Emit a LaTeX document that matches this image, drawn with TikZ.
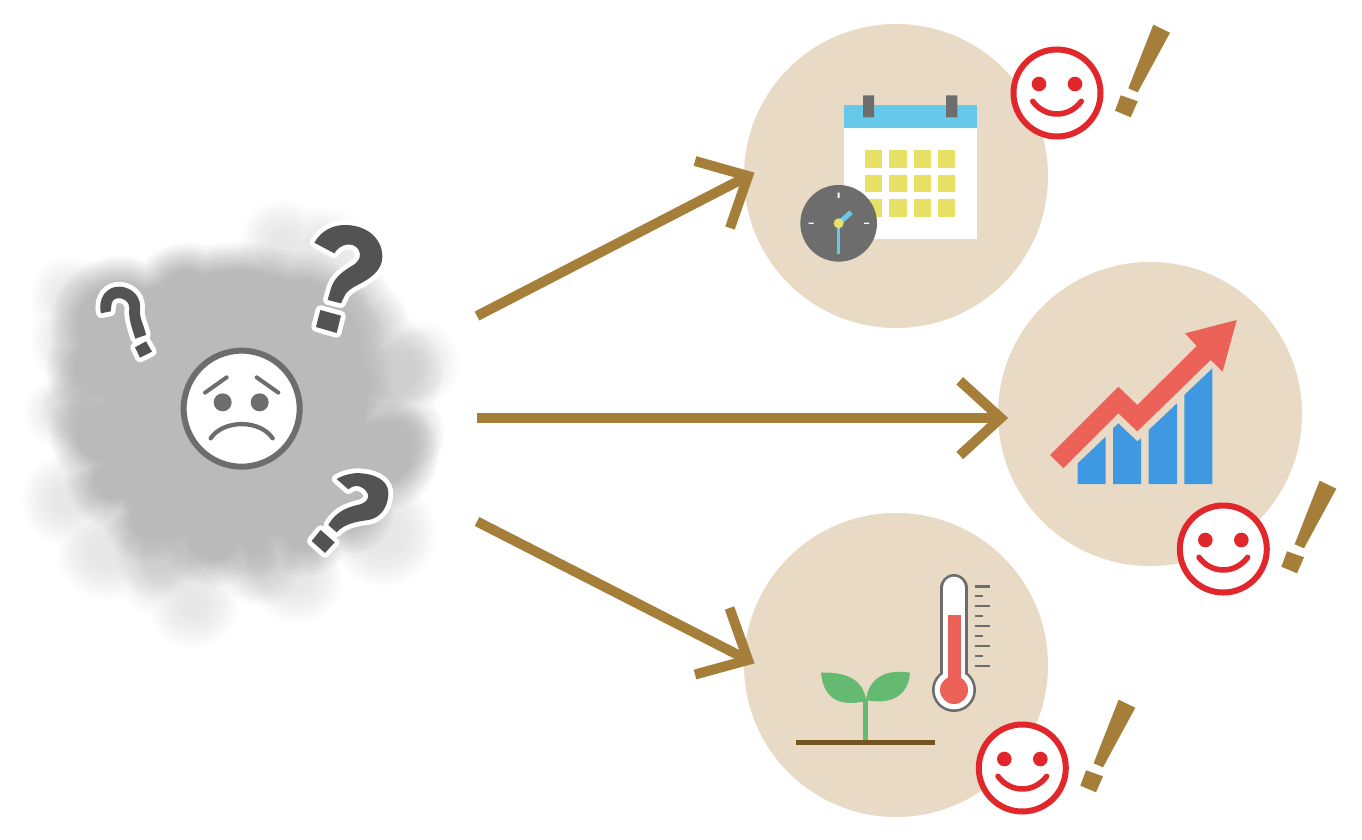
\documentclass[tikz,border=0pt]{standalone}
\definecolor{disc}{HTML}{E9DAC5}
\definecolor{brownarrow}{HTML}{A57F3A}
\definecolor{smilered}{HTML}{E1272B}
\definecolor{steel}{HTML}{6D6D6D}
\definecolor{qdark}{HTML}{535353}
\definecolor{sky}{HTML}{67C9EA}
\definecolor{butter}{HTML}{E7E266}
\definecolor{coral}{HTML}{EC6259}
\definecolor{barblue}{HTML}{3F99E2}
\definecolor{leaf}{HTML}{63BA70}
\definecolor{soil}{HTML}{75551E}
\newcommand{\cloudlayer}[3]{%
  \foreach \k in {1,...,15}{%
    \pgfmathsetmacro{\al}{1/(16-\k)}%
    \pgfmathsetmacro{\dd}{#3*(8-\k)/7}%
    \begin{scope}[transparency group,opacity=\al]
      \foreach \cx/\cy/\cr in {#2}{\fill[#1] (\cx,\cy) circle[radius=\cr+\dd];}
    \end{scope}
  }%
}
\tikzset{
  discnode/.style={circle,fill=disc,minimum size=304pt,inner sep=0pt},
  flow/.style={draw=brownarrow,line width=10pt},
  qmark/.style={fill=qdark,preaction={draw=white,line width=9.5pt,line join=round}},
  ticklong/.style={draw=steel,line width=2.7pt},
  pics/happy/.style={code={
    \draw[smilered,fill=white,line width=6pt] (0,0) circle[radius=43.5];
    \fill[smilered] (-18,-9) circle[radius=7.3] (18,-9) circle[radius=7.3];
    \draw[smilered,line width=5.5pt,line cap=round] (-24.3,8.3) .. controls (-12,25.2) and (12,25.2) .. (24.3,8.3);
    \fill[brownarrow] (96.3,-68.3) -- (113,-60.3) -- (80.7,-0.7) -- (71.3,-4.7) -- cycle;
    \fill[brownarrow] (63.7,2.3) -- (80.7,8.3) -- (73.7,24.3) -- (58,17.7) -- cycle;
  }}
}
\begin{document}
\begin{tikzpicture}[x=1pt,y=-1pt]
\path[fill=white,use as bounding box] (0,0) rectangle (1362,840);

% cloud
\begin{scope}[shift={(20,200)},scale=1/3]
  \cloudlayer{black!9}{790/130/80,900/180/110,520/1210/85,430/1100/100,110/640/50,140/900/85,260/1050/100,830/1130/90,1090/1000/110,1190/490/80,150/290/70,180/420/100}{50}
  \cloudlayer{black!19}{1110/520/115,1000/400/130,1150/700/80,1000/310/75,190/620/80,420/1060/90,720/1090/80}{45}
  \cloudlayer{black!27}{650/600/430,500/500/300,500/800/250,800/800/250,800/450/250,300/380/170,240/500/120,500/300/130,700/290/110,850/330/130,260/700/130,280/840/100,390/950/100,580/1000/120,700/1000/90,850/990/100,980/920/105,1080/760/135}{42}
\end{scope}

% discs
\node[discnode] (cal) at (896,176) {};
\node[discnode] (chart) at (1150,414) {};
\node[discnode] (plant) at (896,665) {};

% connectors
\coordinate (t1) at (477,316);
\coordinate (v1) at (748,176);
\coordinate (a1) at (695,161);
\coordinate (b1) at (730,228);
\coordinate (t2) at (477,418);
\coordinate (v2) at (1000.7,418);
\coordinate (a2) at (959.7,380.8);
\coordinate (b2) at (959.7,455.5);
\coordinate (t3) at (477,521.5);
\coordinate (v3) at (748,660);
\coordinate (a3) at (729.5,608);
\coordinate (b3) at (695,674.5);
\draw[flow] (t1) -- (v1);
\draw[flow] (a1) -- (v1) -- (b1);
\draw[flow] (t2) -- (v2);
\draw[flow] (a2) -- (v2) -- (b2);
\draw[flow] (t3) -- (v3);
\draw[flow] (a3) -- (v3) -- (b3);

% calendar
\begin{scope}[shift={(780,20)},scale=1/3]
  \fill[white] (191,325) rectangle (590,656);
  \fill[sky] (191,255) rectangle (590,325);
  \fill[steel] (249,226) rectangle (282,292) (498,226) rectangle (532,292);
  \foreach \xa/\xb in {255/307,327/380,401/453,474/526}
    \foreach \ya/\yb in {390/443,464/517,537/591}
      \fill[butter] (\xa,\ya) rectangle (\xb,\yb);
  \fill[steel] (176,610) circle[radius=115];
  \fill[white] (173,518) rectangle (179,534) (86,608) rectangle (101,612) (252,608) rectangle (267,612);
  \fill[sky] (171,610) rectangle (181,702);
  \draw[sky,line width=5pt] (176,610) -- (213,577);
  \fill[butter] (176,610) circle[radius=15];
\end{scope}

% chart
\begin{scope}[shift={(1030,300)},scale=1/3]
  \fill[barblue] (143,490) -- (227,410) -- (227,552) -- (143,552) -- cycle;
  \fill[barblue] (249,385) -- (265,370) -- (322,424) -- (333,415) -- (333,552) -- (249,552) -- cycle;
  \fill[barblue] (356,390) -- (441,310) -- (441,552) -- (356,552) -- cycle;
  \fill[barblue] (463,285) -- (547,205) -- (547,552) -- (463,552) -- cycle;
  \fill[coral] (60,465) -- (100,505) -- (265,340) -- (322,394) -- (542,180) -- (578,215) -- (620,60) -- (465,100) -- (500,138) -- (322,315) -- (265,260) -- cycle;
\end{scope}

% seedling and thermometer
\begin{scope}[shift={(780,560)},scale=1/3]
  \fill[leaf] (249,420) rectangle (265,540);
  \fill[leaf] (123,338) .. controls (200,335) and (250,360) .. (258,420) -- (249,425) .. controls (170,440) and (130,410) .. (123,338) -- cycle;
  \fill[leaf] (390,338) .. controls (310,325) and (265,360) .. (258,420) .. controls (330,435) and (385,410) .. (390,338) -- cycle;
  \fill[soil] (48,539) rectangle (465,555);
  \draw[steel,line width=28pt,line cap=round] (522,84) -- (522,390);
  \fill[steel] (522,390) circle[radius=66];
  \draw[white,line width=22.7pt,line cap=round] (522,84) -- (522,390);
  \fill[white] (522,390) circle[radius=58];
  \fill[coral] (503,165) rectangle (542,370);
  \fill[coral] (522,390) circle[radius=42];
  \foreach \yy in {79,138,198,258,318} \draw[ticklong] (584,\yy) -- (629,\yy);
  \foreach \yy in {108,168,228,288} \draw[ticklong] (584,\yy) -- (608,\yy);
\end{scope}

% smileys
\pic at (1057,93) {happy};
\pic at (1223.3,549) {happy};
\pic at (1022.3,768) {happy};

% sad face
\begin{scope}[shift={(20,200)},scale=1/3]
  \draw[steel,fill=white,line width=6pt] (665,626) circle[radius=174];
  \fill[steel] (608,607) circle[radius=27] (719,607) circle[radius=27];
  \draw[steel,line width=4pt,line cap=round] (555,578) -- (620,532);
  \draw[steel,line width=4pt,line cap=round] (710,532) -- (775,578);
  \draw[steel,line width=4.3pt,line cap=round] (572,715) .. controls (610,658) and (720,658) .. (758,715);
\end{scope}

% question marks
\begin{scope}[shift={(295,210)},scale=1/3]
  \path[qmark] (58,98) .. controls (80,60) and (115,45) .. (150,45) .. controls (215,45) and (262,85) .. (262,140) .. controls (262,180) and (228,205) .. (188,225) .. controls (168,235) and (155,245) .. (150,255) -- (138,280) -- (98,270) -- (108,235) .. controls (118,200) and (150,180) .. (175,165) .. controls (195,152) and (200,135) .. (190,118) .. controls (175,95) and (135,100) .. (118,130) -- cycle;
  \path[qmark] (76,300) -- (138,317) -- (125,369) -- (63,351) -- cycle;
\end{scope}
\begin{scope}[shift={(90,270)},scale=1/3]
  \path[qmark] (33,130) .. controls (22,85) and (50,48) .. (90,50) .. controls (135,53) and (155,90) .. (150,120) .. controls (148,145) and (162,165) .. (168,195) -- (136,206) .. controls (128,180) and (114,145) .. (118,115) .. controls (120,85) and (72,72) .. (65,100) -- (62,124) -- cycle;
  \path[qmark] (135,232) -- (168,214) -- (186,245) -- (150,263) -- cycle;
\end{scope}
\begin{scope}[shift={(300,455)},scale=1/3]
  \path[qmark] (110,72) .. controls (130,60) and (160,52) .. (185,55) .. controls (240,60) and (268,85) .. (265,120) .. controls (262,165) and (235,190) .. (205,195) .. controls (170,200) and (135,205) .. (110,232) -- (85,210) .. controls (110,165) and (150,155) .. (180,148) .. controls (205,140) and (215,120) .. (190,100) .. controls (175,90) and (160,90) .. (145,103) -- cycle;
  \path[qmark] (62,225) -- (104,262) -- (75,294) -- (35,258) -- cycle;
\end{scope}
\end{tikzpicture}
\end{document}
